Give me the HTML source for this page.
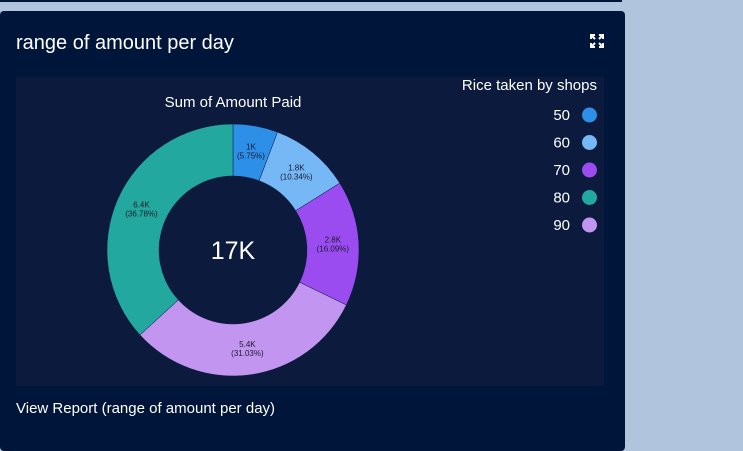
<!DOCTYPE html>
<html><head><meta charset="utf-8">
<style>
body{margin:0;width:743px;height:440px;background:#b0c4de;font-family:"Liberation Sans",sans-serif;overflow:hidden;position:relative}
.prev{position:absolute;left:0;top:0;width:622px;height:2px;background:#00153a}
.card{position:absolute;left:0;top:11px;width:625px;height:440px;background:#00153a;border-radius:4px}
.title{position:absolute;left:16px;top:32px;color:#fff;font-size:20px}
.plot{position:absolute;left:16px;top:77px;width:588px;height:309px;background:#0b1a3d}
.footer{position:absolute;left:16px;top:400px;color:#fff;font-size:15px}
</style></head><body>
<div class="prev"></div>
<div class="card"></div>
<div class="title">range of amount per day</div>
<svg style="position:absolute;left:589px;top:33px" width="16" height="16" viewBox="0 0 16 16">
<g stroke="#fff" stroke-width="2" fill="none"><path d="M2 6V2h4M2 2l4 4M10 2h4v4M14 2l-4 4M2 10v4h4M2 14l4-4M14 10v4h-4M14 14l-4-4"/></g></svg>
<div class="plot"></div>
<svg id="chart" style="position:absolute;left:0;top:0" width="743" height="440"></svg>
<div class="footer">View Report (range of amount per day)</div>
<script>
const categories=["50","60","70","90","80"];
const values=[1000,1800,2800,5400,6400];
const labels=["1K","1.8K","2.8K","5.4K","6.4K"];
const legendCats=["50","60","70","80","90"];
const centerLabel="17K";
const colorMap={"50":"#2d8fe8","60":"#75b8f5","70":"#9b4cf0","80":"#22a89e","90":"#c296f0"};
const svg=document.getElementById('chart');const NS="http://www.w3.org/2000/svg";
function mk(t,a,txt){const e=document.createElementNS(NS,t);for(const k in a)e.setAttribute(k,a[k]);if(txt!==undefined)e.textContent=txt;svg.appendChild(e);return e;}
const cx=233,cy=250,R=126,r=74;
const total=values.reduce((a,b)=>a+b,0);
let t=mk('text',{x:233,y:107,fill:'#fff','font-size':15,'text-anchor':'middle','font-family':'Liberation Sans'},'Sum of Amount Paid');

let a0=0;
function pt(rad,a){return [cx+rad*Math.sin(a),cy-rad*Math.cos(a)];}
values.forEach((v,i)=>{
 const a1=a0+v/total*2*Math.PI;const lg=(a1-a0)>Math.PI?1:0;
 const p1=pt(R,a0),p2=pt(R,a1),p3=pt(r,a1),p4=pt(r,a0);
 const p=mk('path',{d:`M${p1}A${R},${R} 0 ${lg} 1 ${p2}L${p3}A${r},${r} 0 ${lg} 0 ${p4}Z`,fill:colorMap[categories[i]],stroke:'#0b1a3d','stroke-width':0.5});
 
 
 const am=(a0+a1)/2;const lp=pt(100,am);
 const l1=mk('text',{x:lp[0],y:lp[1]-2,fill:'#1a1a2e','font-size':8,'text-anchor':'middle','font-family':'Liberation Sans'},labels[i]);
 
 
 const l2=mk('text',{x:lp[0],y:lp[1]+7,fill:'#1a1a2e','font-size':8,'text-anchor':'middle','font-family':'Liberation Sans'},'('+(v/total*100).toFixed(2)+'%)');
 
 
 a0=a1;
});
const c=mk('text',{x:cx,y:cy+9,fill:'#fff','font-size':25,'text-anchor':'middle','font-family':'Liberation Sans'},centerLabel);


const lt=mk('text',{x:597,y:90,fill:'#fff','font-size':15,'text-anchor':'end','font-family':'Liberation Sans'},'Rice taken by shops');


legendCats.forEach((k,i)=>{const y=115+i*27.5;
 const tx=mk('text',{x:570,y:y+5,fill:'#fff','font-size':15,'text-anchor':'end','font-family':'Liberation Sans'},k);
 
 
 const ci=mk('circle',{cx:589.5,cy:y,r:7.5,fill:colorMap[k]});
 
 
});
</script>
</body></html>
